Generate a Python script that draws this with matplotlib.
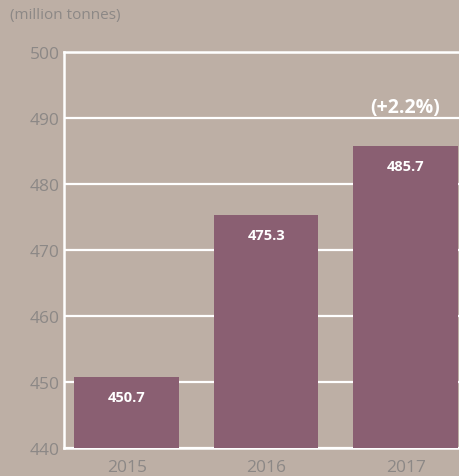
import matplotlib.pyplot as plt

years = ['2015', '2016', '2017']
values = [450.7, 475.3, 485.7]
value_labels = ['450.7', '475.3', '485.7']
yticks = [440, 450, 460, 470, 480, 490, 500]
growth_label = '(+2.2%)'

bg = '#bdafa5'
bar_color = '#8a5f72'
tick_color = '#8c8886'

plt.rcParams['font.family'] = ['Open Sans', 'DejaVu Sans']

fig = plt.figure(figsize=(4.6, 4.77), dpi=100, facecolor=bg)
ax = fig.add_axes([64 / 460, 28 / 477, 396 / 460, 396 / 477], facecolor=bg)

x = range(len(years))
ax.bar(x, values, width=0.75, color=bar_color, zorder=3)

for i, (v, lab) in enumerate(zip(values, value_labels)):
    ax.text(i, v - 3.0, lab, ha='center', va='center', color='white',
            fontsize=10.5, fontweight='bold', zorder=4)

ax.text(2.0, 491.6, growth_label, ha='center', va='center', color='white',
        fontsize=14, fontweight='bold')

ax.set_ylim(440, 500)
ax.set_xlim(-0.45, 2.39)
ax.set_yticks(yticks)
ax.set_xticks(list(x))
ax.set_xticklabels(years)
ax.grid(axis='y', color='white', linewidth=1.6, zorder=1)
ax.tick_params(axis='both', length=0, labelsize=12.5, colors=tick_color, pad=3)
ax.tick_params(axis='x', pad=8)

for side in ['left', 'top', 'bottom']:
    ax.spines[side].set_color('white')
    ax.spines[side].set_linewidth(1.8)
ax.spines['right'].set_visible(False)

fig.text(10 / 460, 1 - 16 / 477, '(million tonnes)', ha='left', va='center',
         color=tick_color, fontsize=11)

plt.savefig('out.png', dpi=100, facecolor=bg)
